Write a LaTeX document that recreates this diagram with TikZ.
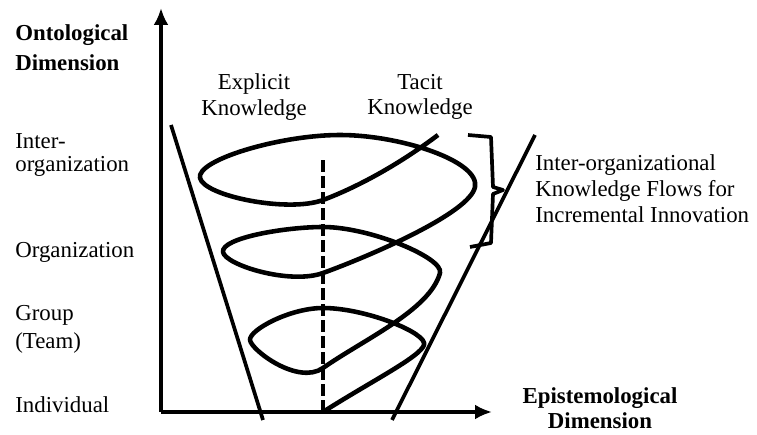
\documentclass[tikz,border=0pt]{standalone}
\usepackage{fontspec}
\setmainfont{Liberation Serif}
\usetikzlibrary{arrows.meta,positioning}
\tikzset{
  levellabel/.style = {
    anchor=west,
    align=left,
    inner sep=0pt,
    font=\fontsize{13}{14.5}\selectfont
  },
  dimlabel/.style = {
    align=center,
    inner sep=0pt,
    font=\bfseries\fontsize{13}{14.5}\selectfont
  },
  kindlabel/.style = {
    align=center,
    inner sep=0pt,
    font=\fontsize{13}{14.5}\selectfont
  },
  axisline/.style = {
    -{Latex[length=3.4mm,width=3mm]},
    line width=2.7pt
  },
  spiralline/.style = {
    line width=2.6pt,
    line join=round
  },
  coneline/.style = {
    line width=2.1pt
  },
  splitline/.style = {
    line width=2.1pt,
    dash pattern=on 2.4mm off 0.8mm
  },
  bracketline/.style = {
    line width=2.1pt,
    line join=round
  }
}
\begin{document}
\begin{tikzpicture}[x=0.2mm,y=0.2mm]
    \useasboundingbox (0,0) rectangle (757,435);
    % axes
    \coordinate (origin) at (161,23);
    \coordinate (ytip) at (161,427);
    \coordinate (xtip) at (492,23);
    \draw[axisline] (origin) -- (ytip);
    \draw[axisline] (origin) -- (xtip);
    % labels on the axes
    \node[dimlabel, anchor=west, align=left,
      font=\bfseries\fontsize{13}{17}\selectfont] (ontlabel) at (15,387) {Ontological\\Dimension};
    \node[dimlabel] (epilabel) at (600,27) {Epistemological\\Dimension};
    \node[levellabel, font=\fontsize{13}{13.6}\selectfont] (lvlinter) at (15,280) {Inter-\\organization};
    \node[levellabel] (lvlorg) at (15,183) {Organization};
    \node[levellabel, font=\fontsize{13}{16}\selectfont] (lvlgroup) at (15,106) {Group\\(Team)};
    \node[levellabel] (lvlind) at (15,30) {Individual};
    \node[kindlabel] (explicit) at (254,338) {Explicit\\Knowledge};
    \node[kindlabel, right=12mm of explicit] (tacit) {Tacit\\Knowledge};
    \node[levellabel, font=\fontsize{13}{14.8}\selectfont] (flowlabel) at (535,246)
      {Inter-organizational\\Knowledge Flows for\\Incremental Innovation};
    % cone and middle line
    \coordinate (coneltop) at (171,310);
    \coordinate (conelbot) at (263,15);
    \coordinate (conertop) at (535,300);
    \coordinate (conerbot) at (392,15);
    \coordinate (splittop) at (323,277);
    \draw[coneline] (coneltop) -- (conelbot);
    \draw[coneline] (conerbot) -- (conertop);
    \draw[splitline] (origin -| splittop) -- (splittop);
    % knowledge spiral
    \draw[spiralline] (323,23)
      .. controls (370,53) and (420,78) .. (424,90)
      .. controls (428,102) and (365,127) .. (323,127)
      .. controls (290,127) and (249,105) .. (250,95)
      .. controls (251,85) and (298,49.5) .. (323,67)
      .. controls (364,95.7) and (430,125) .. (440,162)
      .. controls (444,177) and (370,208) .. (323,208)
      .. controls (285,208) and (221,197) .. (223,183)
      .. controls (225,170) and (290,150) .. (323,162)
      .. controls (370,179) and (470,222) .. (475,248)
      .. controls (480,274) and (400,300) .. (340,300)
      .. controls (280,300) and (196,275) .. (200,257)
      .. controls (204,239) and (288,222) .. (323,235)
      .. controls (363,250) and (405,275) .. (438,300);
    % bracket for the flows
    \draw[bracketline] (468,300) -- (491,298) -- (493,248) -- (503,245)
      -- (493,241) -- (491,192) -- (470,188);
  \end{tikzpicture}
\end{document}
